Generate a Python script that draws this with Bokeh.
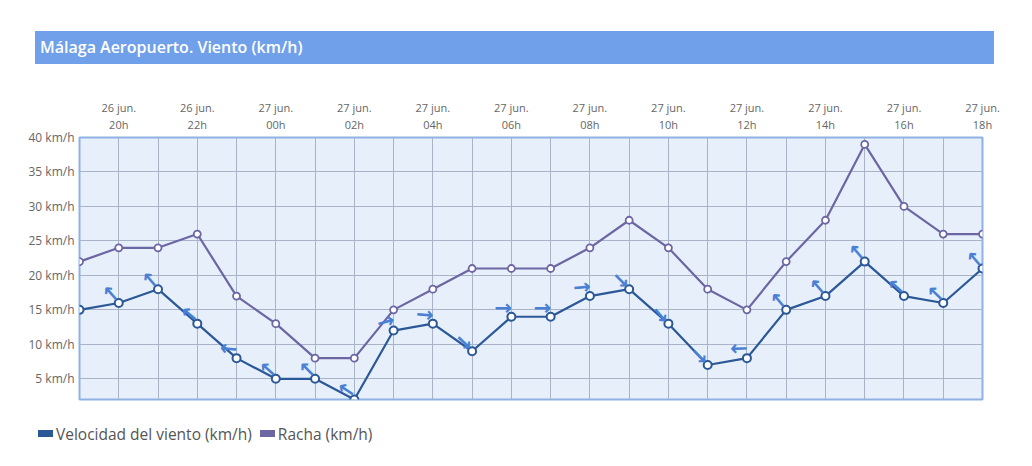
import numpy as np
from bokeh.plotting import figure
from bokeh.models import (ColumnDataSource, Range1d, FixedTicker, PrintfTickFormatter, Div)
from bokeh.layouts import column
from bokeh.core.properties import value
from bokeh.embed import file_html
from bokeh.resources import INLINE

# ---------------- data ----------------
title_text = "Málaga Aeropuerto. Viento (km/h)"
dates = ["26 jun."] * 5 + ["27 jun."] * 19
hours = ["19h", "20h", "21h", "22h", "23h", "00h", "01h", "02h", "03h", "04h", "05h", "06h",
         "07h", "08h", "09h", "10h", "11h", "12h", "13h", "14h", "15h", "16h", "17h", "18h"]
velocidad = [15, 16, 18, 13, 8, 5, 5, 2, 12, 13, 9, 14, 14, 17, 18, 13, 7, 8, 15, 17, 22, 17, 16, 21]
racha = [22, 24, 24, 26, 17, 13, 8, 8, 15, 18, 21, 21, 21, 24, 28, 24, 18, 15, 22, 28, 39, 30, 26, 26]
# direction the wind arrow points (degrees, counter-clockwise from east)
direccion = [133, 132, 130, 140, 175, 138, 135, 146, 15, -5, -43, 0, 0, 5, -45, -50, -45, 182,
             130, 130, 130, 138, 136, 130]
y_ticks = [5, 10, 15, 20, 25, 30, 35, 40]
series_names = ["Velocidad del viento (km/h)", "Racha (km/h)"]

BLUE = "#2b5897"
PURPLE = "#6c66a3"
ARROW = "#4a80d4"
FONT = "Open Sans"

x = list(range(len(hours)))
src = ColumnDataSource(dict(
    x=x, velocidad=velocidad, racha=racha,
    angle=list(np.deg2rad(direccion)), arrow=["\u2192"] * len(x),
))

p = figure(width=1024, height=348,
           x_range=Range1d(x[0], x[-1]), y_range=Range1d(2, 40),
           x_axis_location="above", y_axis_location="left",
           output_backend="svg", toolbar_location=None,
           min_border_left=79, min_border_right=42, min_border_top=73, min_border_bottom=13)

p.background_fill_color = "#e7effb"
p.border_fill_color = "white"
p.outline_line_color = "#8fb1e3"
p.outline_line_width = 2

# top axis with two-line labels every 2 hours
tick_pos = [i for i in x if i % 2 == 1]
xa = p.xaxis[0]
xa.ticker = FixedTicker(ticks=tick_pos)
xa.major_label_overrides = {i: f"{dates[i]}\n{hours[i]}" for i in tick_pos}
xa.axis_line_color = None
xa.major_tick_line_color = None
xa.minor_tick_line_color = None
xa.major_tick_in = 0
xa.major_tick_out = 0
xa.minor_tick_in = 0
xa.minor_tick_out = 0
xa.major_label_standoff = 6
xa.major_label_text_font = FONT
xa.major_label_text_font_size = "11px"
xa.major_label_text_color = "#666666"
xa.major_label_text_line_height = 1.1

ya = p.yaxis[0]
ya.ticker = FixedTicker(ticks=y_ticks)
ya.formatter = PrintfTickFormatter(format="%d km/h")
ya.axis_line_color = None
ya.major_tick_line_color = None
ya.minor_tick_line_color = None
ya.major_tick_in = 0
ya.major_tick_out = 0
ya.minor_tick_in = 0
ya.minor_tick_out = 0
ya.major_label_standoff = 5
ya.major_label_text_font = FONT
ya.major_label_text_font_size = "12px"
ya.major_label_text_color = "#666666"

p.xgrid.ticker = FixedTicker(ticks=x)
p.ygrid.ticker = FixedTicker(ticks=y_ticks)
for g in (p.xgrid, p.ygrid):
    g.grid_line_color = "#a9b3c7"
    g.grid_line_width = 1

# series
p.line("x", "racha", source=src, line_color=PURPLE, line_width=2.2)
p.scatter("x", "racha", source=src, size=7, fill_color="white", line_color=PURPLE, line_width=1.8)
p.line("x", "velocidad", source=src, line_color=BLUE, line_width=2.2)
p.scatter("x", "velocidad", source=src, size=8, fill_color="white", line_color=BLUE, line_width=2)
p.text("x", "velocidad", text="arrow", angle="angle", source=src,
       x_offset=-8, y_offset=-9, text_align="center", text_baseline="middle",
       text_font=value("DejaVu Sans"), text_font_style="bold", text_font_size="21px",
       text_color=ARROW)

title_div = Div(text=title_text, width=959, height=33, margin=(31, 0, 0, 35),
                styles={"background-color": "#6fa0e9", "color": "#ffffff",
                        "font-family": "'Open Sans'", "font-size": "16px",
                        "font-weight": "600", "line-height": "33px",
                        "padding-left": "5px", "box-sizing": "border-box",
                        "white-space": "nowrap"})

sq = ("display:inline-block;width:15px;height:7px;vertical-align:middle;"
      "background:{c};margin:0 3px 0 {m}px")
legend_html = (
    f'<span style="{sq.format(c=BLUE, m=0)}"></span>'
    f'<span style="vertical-align:middle">{series_names[0]}</span>'
    f'<span style="{sq.format(c=PURPLE, m=8)}"></span>'
    f'<span style="vertical-align:middle">{series_names[1]}</span>'
)
legend_div = Div(text=legend_html, width=500, height=22, margin=(9, 0, 0, 38),
                 styles={"font-family": "'Open Sans'", "font-size": "15.5px",
                         "color": "#555555", "line-height": "22px",
                         "white-space": "nowrap"})

layout = column(title_div, p, legend_div)
open("out.html", "w").write(file_html(layout, INLINE, title="Viento"))
